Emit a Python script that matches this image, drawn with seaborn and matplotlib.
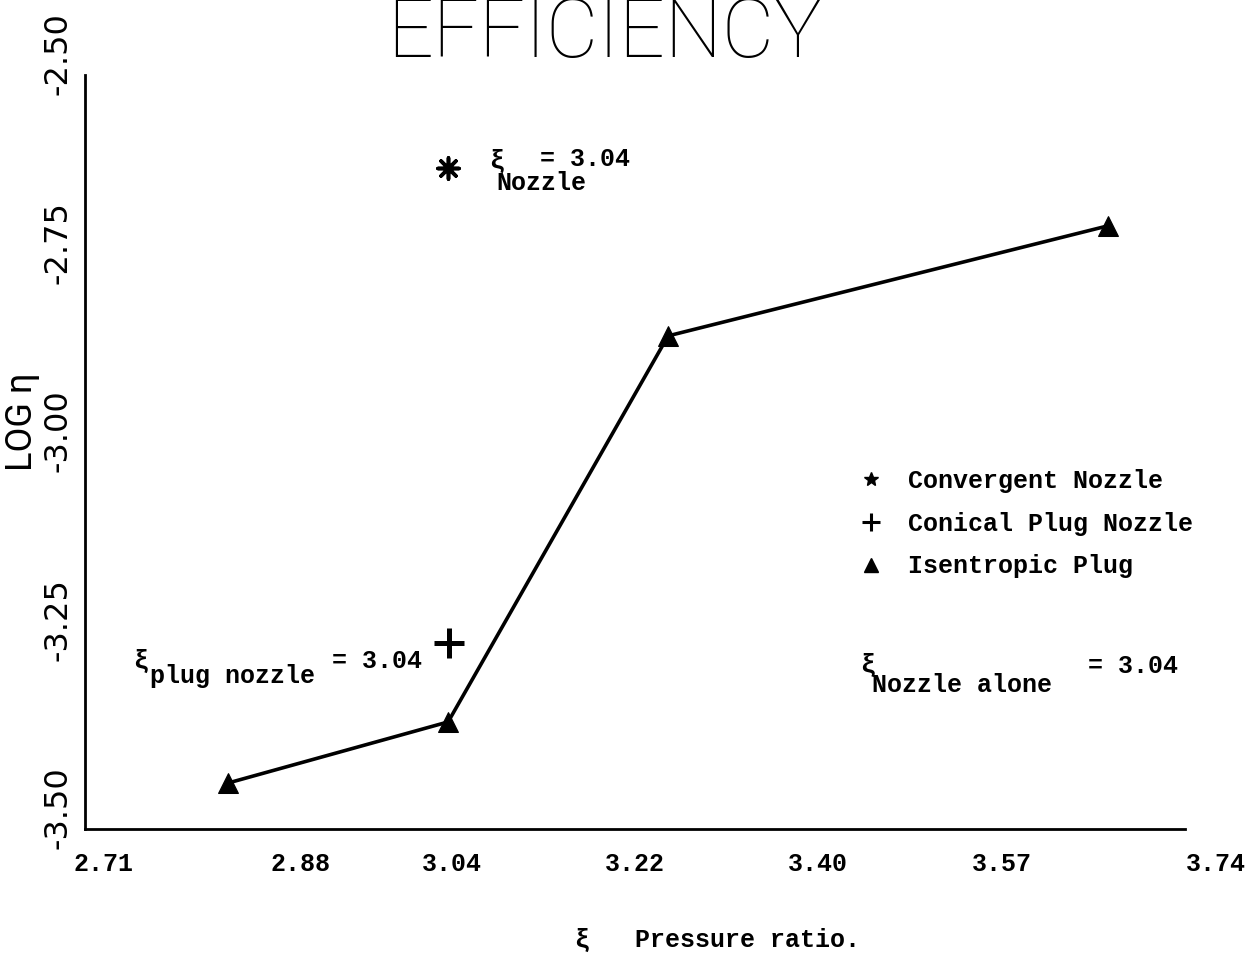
import numpy as np
import matplotlib
matplotlib.use("Agg")
import matplotlib.pyplot as plt
from matplotlib.lines import Line2D
import seaborn as sns

# data
iso_x = [2.844, 3.050, 3.256, 3.668]
iso_y = [-3.439, -3.358, -2.846, -2.700]
conv_x = [3.050]
conv_y = [-2.623]
conical_x = [3.051]
conical_y = [-3.253]

x_tick_labels = ["2.71", "2.88", "3.04", "3.22", "3.40", "3.57", "3.74"]
y_tick_labels = ["-3.50", "-3.25", "-3.00", "-2.75", "-2.50"]
legend_labels = ["Convergent Nozzle", "Conical Plug Nozzle", "Isentropic Plug"]

W, H = 1259, 955
PX = 0.72  # points per pixel at dpi 100
TYPE = ["Liberation Mono", "DejaVu Sans Mono"]
PLOTTER = ["Roboto", "DejaVu Sans"]

sns.set_style("white")
plt.rcParams["font.family"] = TYPE
plt.rcParams.update({"text.color": "black", "axes.labelcolor": "black",
                     "xtick.color": "black", "ytick.color": "black"})

fig = plt.figure(figsize=(W / 100, H / 100), dpi=100)
ax = fig.add_axes([85 / W, 1 - 829 / H, 1100 / W, 754 / H])

sns.lineplot(x=iso_x, y=iso_y, color="black", linewidth=2.6, marker="^",
             markersize=14, markeredgecolor="black", ax=ax)
sns.scatterplot(x=conv_x, y=conv_y, marker=(8, 2, 0), s=230, color="black",
                linewidth=2.6, ax=ax)
sns.scatterplot(x=conical_x, y=conical_y, marker="+", s=480, color="black",
                linewidth=3.6, ax=ax)

ax.set_xlim(2.71, 3.74)
ax.set_ylim(-3.5, -2.5)
x_ticks = np.linspace(2.71, 3.74, len(x_tick_labels))
y_ticks = np.linspace(-3.5, -2.5, len(y_tick_labels))
ax.set_xticks(x_ticks)
ax.set_yticks(y_ticks)
ax.set_xticklabels([])
ax.set_yticklabels([])

# typewritten tick labels were not all centred under their ticks (pixels)
x_label_nudge = [18, 32, 0, 0, 0, 0, 31]
for xv, lab, dx in zip(x_ticks, x_tick_labels, x_label_nudge):
    ax.annotate(lab, xy=(xv, 0), xycoords=("data", "axes fraction"),
                xytext=(dx * PX, -23 * PX), textcoords="offset points",
                ha="center", va="top", fontsize=18, fontweight="bold")
for yv, lab in zip(y_ticks, y_tick_labels):
    ax.annotate(lab, xy=(0, yv), xycoords=("axes fraction", "data"),
                xytext=(-27 * PX, 21 * PX), textcoords="offset points",
                ha="center", va="center", rotation=90, fontsize=23,
                family="DejaVu Sans")

sns.despine(ax=ax)
for side in ["left", "bottom"]:
    ax.spines[side].set_linewidth(2)
    ax.spines[side].set_color("black")
ax.tick_params(axis="x", direction="inout", length=12, width=1.5)
ax.tick_params(axis="y", direction="inout", length=18, width=1.8)

ax.set_xlabel("ξ   Pressure ratio.", fontsize=18, fontweight="bold",
              va="center")
ax.xaxis.set_label_coords(0.575, -0.147)
ax.set_ylabel("LOG η", fontsize=26, family=PLOTTER, va="center")
ax.yaxis.set_label_coords(-0.057, 0.54)

fig.text(605 / W, 1 - 57 / H, "EFFICIENCY", ha="center", va="baseline",
         fontsize=58, family=PLOTTER, fontweight="light")

handles = [
    Line2D([], [], ls="", marker="*", markersize=10, color="black"),
    Line2D([], [], ls="", marker="+", markersize=13, mew=2.2, color="black"),
    Line2D([], [], ls="", marker="^", markersize=10, color="black"),
]
ax.legend(handles, legend_labels, loc="upper left",
          bbox_to_anchor=(848 / W, 1 - 459 / H),
          bbox_transform=fig.transFigure, frameon=False, borderaxespad=0,
          handlelength=1.0, handletextpad=1.0, labelspacing=0.75,
          prop={"family": TYPE, "size": 18, "weight": "bold"})


def note(px, py, s, size=18):
    fig.text(px / W, 1 - py / H, s, ha="left", va="baseline",
             fontsize=size, fontweight="bold")


note(489, 168, "ξ")
note(496, 190, "Nozzle")
note(540, 166, "= 3.04")

note(133, 668, "ξ")
note(150, 683, "plug nozzle")
note(332, 668, "= 3.04")

note(860, 672, "ξ")
note(872, 692, "Nozzle alone")
note(1088, 673, "= 3.04")

fig.savefig("out.png", dpi=100)
